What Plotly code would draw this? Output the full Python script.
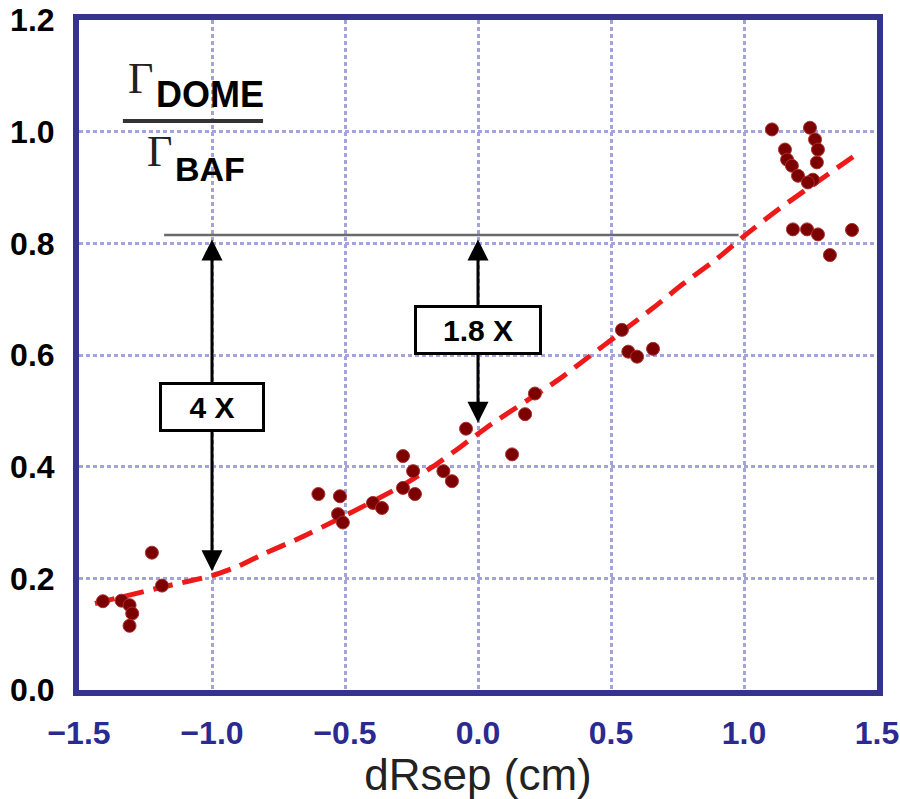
import plotly.graph_objects as go

# Separatrix shift (cm) and measured dome/baffle flux ratio
drsep = [-1.41, -1.34, -1.31, -1.30, -1.31, -1.226, -1.188,
         -0.60, -0.519, -0.526, -0.508, -0.395, -0.361,
         -0.282, -0.244, -0.282, -0.237, -0.13, -0.098, -0.045,
         0.128, 0.177, 0.214,
         0.541, 0.565, 0.598, 0.658,
         1.105, 1.248, 1.267, 1.154, 1.162, 1.18, 1.203, 1.259, 1.274,
         1.278, 1.24, 1.184, 1.237, 1.278, 1.323, 1.406]
flux_ratio = [0.159, 0.160, 0.152, 0.137, 0.115, 0.246, 0.187,
              0.351, 0.347, 0.315, 0.300, 0.335, 0.326,
              0.419, 0.392, 0.362, 0.351, 0.392, 0.374, 0.468,
              0.422, 0.494, 0.531,
              0.645, 0.606, 0.597, 0.611,
              1.004, 1.007, 0.986, 0.968, 0.950, 0.939, 0.921, 0.914, 0.945,
              0.968, 0.909, 0.825, 0.825, 0.816, 0.779, 0.824]

# Trend line through the data
trend_x = [-1.44, -1.18, -1.0, -0.90, -0.80, -0.68, -0.53, -0.30, -0.17, -0.07,
           0.05, 0.30, 0.42, 0.66, 0.77, 0.90, 1.00, 1.13, 1.41]
trend_y = [0.155, 0.185, 0.205, 0.222, 0.245, 0.270, 0.305, 0.362, 0.400, 0.434,
           0.476, 0.555, 0.598, 0.685, 0.727, 0.773, 0.813, 0.861, 0.955]

# Reference level and the two ratio markers
ref_level = 0.815
ref_x_start = -1.18
ref_x_end = 0.98
gain_x = [-1.0, 0.0]
gain_low = [0.21, 0.476]
gain_box_y = [0.506, 0.645]
gain_text = ["4 X", "1.8 X"]
gain_box_w = [96, 118]

x_ticks = [-1.5, -1.0, -0.5, 0.0, 0.5, 1.0, 1.5]
y_ticks = [0.0, 0.2, 0.4, 0.6, 0.8, 1.0, 1.2]

fig = go.Figure()

fig.add_trace(go.Scatter(
    x=trend_x, y=trend_y, mode="lines",
    line=dict(color="#ee1a1a", width=5, dash="20px,10px", shape="spline", smoothing=0.6),
    hoverinfo="skip", showlegend=False,
))
fig.add_trace(go.Scatter(
    x=drsep, y=flux_ratio, mode="markers",
    marker=dict(color="#7d0000", size=13, line=dict(color="#a83030", width=1)),
    showlegend=False,
))

shapes = [
    dict(type="line", xref="x", yref="y", x0=ref_x_start, x1=ref_x_end,
         y0=ref_level, y1=ref_level, line=dict(color="#6a6a6a", width=2.5)),
    # fraction bar of the y label
    dict(type="line", xref="x", yref="y", x0=-1.335, x1=-0.808,
         y0=1.019, y1=1.019, line=dict(color="#333333", width=4)),
]

annotations = []
for gx, lo in zip(gain_x, gain_low):
    annotations.append(dict(
        x=gx, y=ref_level - 0.008, ax=gx, ay=lo, xref="x", yref="y",
        axref="x", ayref="y", text="", showarrow=True,
        arrowhead=2, startarrowhead=2, arrowside="end+start",
        arrowsize=1.4, arrowwidth=3, arrowcolor="black",
    ))
for gx, gy, txt, w in zip(gain_x, gain_box_y, gain_text, gain_box_w):
    annotations.append(dict(
        x=gx, y=gy, xref="x", yref="y", text="<b>%s</b>" % txt, showarrow=False,
        font=dict(family="Liberation Sans", size=30, color="black"),
        bgcolor="white", bordercolor="black", borderwidth=3, borderpad=2,
        width=w, height=40,
    ))

# Gamma_DOME / Gamma_BAF label
annotations += [
    dict(x=-1.267, y=1.095, xref="x", yref="y", text="Γ", showarrow=False,
         font=dict(family="Liberation Serif", size=44, color="#222222")),
    dict(x=-1.008, y=1.066, xref="x", yref="y", text="<b>DOME</b>", showarrow=False,
         font=dict(family="Liberation Sans", size=36, color="black")),
    dict(x=-1.199, y=0.965, xref="x", yref="y", text="Γ", showarrow=False,
         font=dict(family="Liberation Serif", size=44, color="#222222")),
    dict(x=-1.008, y=0.934, xref="x", yref="y", text="<b>BAF</b>", showarrow=False,
         font=dict(family="Liberation Sans", size=34, color="black")),
]

fig.update_layout(
    width=900, height=799,
    margin=dict(l=79, r=23, t=20, b=109, autoexpand=False),
    paper_bgcolor="white", plot_bgcolor="white",
    shapes=shapes, annotations=annotations,
    xaxis=dict(
        range=[-1.5, 1.5], tickvals=x_ticks, tickformat=".1f", automargin=False,
        showgrid=True, gridcolor="#a4a4da", gridwidth=2.5, griddash="4px,3px",
        zeroline=False, showline=True, linecolor="#34348e", linewidth=6, mirror=True,
        ticks="", ticklabelstandoff=10, ticklabeloverflow="allow",
        tickfont=dict(family="Liberation Sans", size=32, color="#2a2a90", weight="bold"),
        title=dict(text="dRsep (cm)", standoff=14,
                   font=dict(family="Liberation Sans", size=44, color="#222222")),
    ),
    yaxis=dict(
        range=[0, 1.2], tickvals=y_ticks, tickformat=".1f", automargin=False,
        showgrid=True, gridcolor="#a4a4da", gridwidth=2.5, griddash="4px,3px",
        zeroline=False, showline=True, linecolor="#34348e", linewidth=6, mirror=True,
        ticks="", ticklabelstandoff=12, ticklabeloverflow="allow",
        tickfont=dict(family="Liberation Sans", size=32, color="black", weight="bold"),
    ),
)

fig.write_html("out.html")
